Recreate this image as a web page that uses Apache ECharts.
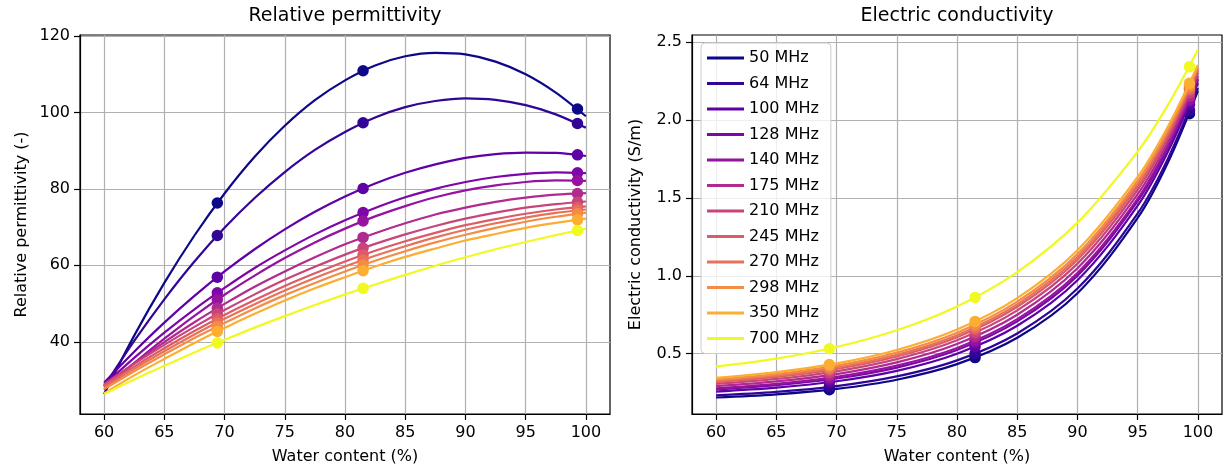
<!DOCTYPE html>
<html>
<head>
<meta charset="utf-8">
<script src="https://cdn.jsdelivr.net/npm/echarts@6/dist/echarts.min.js"></script>
<style>
  html, body { margin: 0; padding: 0; background: #fff; }
  #chart { width: 1226px; height: 472px; }
</style>
</head>
<body>
<div id="chart"></div>
<script>
// frequencies (legend order)
const freqs = ['50 MHz', '64 MHz', '100 MHz', '128 MHz', '140 MHz', '175 MHz',
  '210 MHz', '245 MHz', '270 MHz', '298 MHz', '350 MHz', '700 MHz'];

// water content of the measured samples and of the fitted curve samples
const waterPts = [69.4, 81.5, 99.3];
const permWater = [60, 62.5, 65, 67.5, 70, 72.5, 75, 77.5, 80, 82.5, 85, 87.5, 90, 92.5, 95, 97.5, 100];
const condWater = [60, 65, 70, 75, 80, 85, 90, 95, 97.5, 100];

// relative permittivity, measured points
const permPts = [
  [76.3, 110.9, 100.9],
  [67.8, 97.3, 97.1],
  [56.9, 80.1, 88.9],
  [52.8, 73.8, 84.2],
  [51.0, 71.6, 82.2],
  [48.8, 67.3, 78.8],
  [47.3, 64.5, 76.5],
  [46.0, 62.7, 75.2],
  [45.0, 61.4, 74.4],
  [44.0, 60.1, 73.5],
  [42.7, 58.6, 71.9],
  [39.7, 54.0, 69.1]
];

// relative permittivity, fitted curves (read at permWater)
const permFit = [
  [26.3, 41.6, 55.4, 67.8, 78.8, 88.4, 96.5, 103.2, 108.4, 112.3, 114.7, 115.6, 115.2, 113.3, 110.0, 105.2, 99.0],
  [28.3, 40.2, 51.1, 61.0, 69.8, 77.6, 84.4, 90.2, 94.9, 98.7, 101.4, 103.0, 103.7, 103.3, 101.9, 99.5, 96.0],
  [29.3, 37.4, 45.0, 52.0, 58.4, 64.2, 69.4, 74.0, 78.0, 81.4, 84.2, 86.4, 88.1, 89.1, 89.5, 89.4, 88.6],
  [28.7, 35.8, 42.4, 48.5, 54.1, 59.3, 63.9, 68.1, 71.8, 75.0, 77.8, 80.0, 81.8, 83.1, 83.9, 84.3, 84.1],
  [27.5, 34.4, 40.8, 46.8, 52.3, 57.3, 61.9, 66.0, 69.6, 72.8, 75.5, 77.8, 79.6, 80.9, 81.8, 82.2, 82.1],
  [28.5, 34.4, 39.9, 45.1, 49.9, 54.4, 58.4, 62.1, 65.5, 68.4, 71.0, 73.3, 75.1, 76.6, 77.7, 78.5, 78.9],
  [28.9, 34.2, 39.2, 43.9, 48.3, 52.4, 56.2, 59.6, 62.8, 65.6, 68.1, 70.3, 72.2, 73.8, 75.1, 76.0, 76.7],
  [28.5, 33.5, 38.3, 42.8, 47.0, 50.9, 54.6, 57.9, 61.0, 63.8, 66.3, 68.5, 70.5, 72.1, 73.5, 74.6, 75.4],
  [28.0, 32.9, 37.5, 41.9, 46.0, 49.8, 53.4, 56.7, 59.7, 62.5, 65.0, 67.3, 69.3, 71.0, 72.5, 73.7, 74.6],
  [27.6, 32.3, 36.7, 41.0, 44.9, 48.7, 52.2, 55.4, 58.4, 61.2, 63.7, 66.0, 68.0, 69.8, 71.4, 72.7, 73.8],
  [26.5, 31.2, 35.5, 39.7, 43.6, 47.3, 50.8, 54.0, 56.9, 59.7, 62.2, 64.4, 66.5, 68.2, 69.8, 71.1, 72.2],
  [26.3, 30.1, 33.7, 37.2, 40.5, 43.7, 46.7, 49.6, 52.4, 55.0, 57.5, 59.9, 62.1, 64.2, 66.1, 67.9, 69.6]
];

// electric conductivity (S/m), measured points
const condPts = [
  [0.269, 0.475, 2.040],
  [0.287, 0.501, 2.061],
  [0.317, 0.545, 2.099],
  [0.335, 0.570, 2.120],
  [0.345, 0.584, 2.132],
  [0.362, 0.610, 2.153],
  [0.380, 0.635, 2.175],
  [0.395, 0.656, 2.192],
  [0.404, 0.670, 2.204],
  [0.416, 0.686, 2.217],
  [0.430, 0.707, 2.235],
  [0.532, 0.861, 2.342]
];

// electric conductivity, fitted curves (read at condWater)
const condFit = [
  [0.219, 0.239, 0.274, 0.333, 0.433, 0.602, 0.888, 1.371, 1.725, 2.187],
  [0.233, 0.255, 0.292, 0.354, 0.457, 0.630, 0.918, 1.400, 1.750, 2.205],
  [0.257, 0.282, 0.323, 0.390, 0.500, 0.679, 0.971, 1.450, 1.794, 2.237],
  [0.271, 0.298, 0.341, 0.411, 0.524, 0.707, 1.001, 1.479, 1.820, 2.255],
  [0.278, 0.306, 0.351, 0.423, 0.537, 0.722, 1.018, 1.495, 1.834, 2.265],
  [0.292, 0.322, 0.369, 0.444, 0.562, 0.750, 1.048, 1.524, 1.859, 2.283],
  [0.306, 0.338, 0.387, 0.465, 0.586, 0.778, 1.078, 1.552, 1.884, 2.302],
  [0.317, 0.351, 0.402, 0.482, 0.606, 0.801, 1.103, 1.576, 1.905, 2.316],
  [0.325, 0.359, 0.412, 0.493, 0.619, 0.816, 1.120, 1.592, 1.919, 2.326],
  [0.334, 0.369, 0.423, 0.507, 0.635, 0.834, 1.139, 1.610, 1.935, 2.338],
  [0.345, 0.382, 0.438, 0.524, 0.655, 0.857, 1.164, 1.634, 1.956, 2.353],
  [0.417, 0.468, 0.543, 0.650, 0.803, 1.024, 1.341, 1.797, 2.095, 2.451]
];

const xTicks = [60, 65, 70, 75, 80, 85, 90, 95, 100];
const permTicks = [40, 60, 80, 100, 120];
const condTicks = [0.5, 1.0, 1.5, 2.0, 2.5];

// plasma colormap samples
const colors = ['#0d0887', '#310596', '#5e01a5', '#7d06a6', '#9613a0', '#b12a90',
  '#c9447a', '#db5b69', '#e87159', '#f48b47', '#fcae33', '#f0f921'];

const FONT = 'DejaVu Sans';

function xAxisOpt (gi) {
  return {
    type: 'value', gridIndex: gi, min: 58, max: 102,
    name: 'Water content (%)', nameLocation: 'middle', nameGap: 35,
    nameTextStyle: { fontFamily: FONT, fontSize: 16, color: '#000' },
    axisLine: { show: true, onZero: false, lineStyle: { color: '#000', width: 1.2 } },
    axisTick: { show: true, length: 6, customValues: xTicks, lineStyle: { color: '#000', width: 1.2 } },
    axisLabel: { customValues: xTicks, margin: 11, fontFamily: FONT, fontSize: 16, color: '#000' },
    splitLine: { show: true, lineStyle: { color: '#b0b0b0', width: 1.2 } }
  }
}

function yAxisOpt (gi, min, max, ticks, name, gap, fmt) {
  return {
    type: 'value', gridIndex: gi, min: min, max: max,
    name: name, nameLocation: 'middle', nameGap: gap, nameRotate: 90,
    nameTextStyle: { fontFamily: FONT, fontSize: 16, color: '#000' },
    axisLine: { show: true, onZero: false, lineStyle: { color: '#000', width: 1.2 } },
    axisTick: { show: true, length: 6, customValues: ticks, lineStyle: { color: '#000', width: 1.2 } },
    axisLabel: { customValues: ticks, margin: 10, fontFamily: FONT, fontSize: 16, color: '#000', formatter: fmt },
    splitLine: { show: true, lineStyle: { color: '#b0b0b0', width: 1.2 } }
  }
}

const series = [];
freqs.forEach((f, i) => {
  const c = colors[i];
  series.push({
    type: 'line', name: f, xAxisIndex: 0, yAxisIndex: 0,
    data: permWater.map((x, j) => [x, permFit[i][j]]),
    showSymbol: false, smooth: 0.3,
    lineStyle: { color: c, width: 2.2 }, itemStyle: { color: c }, z: 2 + i
  });
  series.push({
    type: 'scatter', name: f, xAxisIndex: 0, yAxisIndex: 0,
    data: waterPts.map((x, j) => [x, permPts[i][j]]),
    symbolSize: 11.5, itemStyle: { color: c, opacity: 1 }, z: 2 + i
  });
  series.push({
    type: 'line', name: f, xAxisIndex: 1, yAxisIndex: 1,
    data: condWater.map((x, j) => [x, condFit[i][j]]),
    showSymbol: false, smooth: 0.35,
    lineStyle: { color: c, width: 2.2 }, itemStyle: { color: c }, z: 2 + i
  });
  series.push({
    type: 'scatter', name: f, xAxisIndex: 1, yAxisIndex: 1,
    data: waterPts.map((x, j) => [x, condPts[i][j]]),
    symbolSize: 11.5, itemStyle: { color: c, opacity: 1 }, z: 2 + i
  });
});

const myChart = echarts.init(document.getElementById('chart'), null, { renderer: 'canvas' });
myChart.setOption({
  animation: false,
  backgroundColor: '#fff',
  title: [
    { text: 'Relative permittivity', left: 345, top: 7, textAlign: 'center', padding: 0,
      textStyle: { fontFamily: FONT, fontSize: 19, fontWeight: 'normal', color: '#000' } },
    { text: 'Electric conductivity', left: 957, top: 7, textAlign: 'center', padding: 0,
      textStyle: { fontFamily: FONT, fontSize: 19, fontWeight: 'normal', color: '#000' } }
  ],
  grid: [
    { left: 80, top: 35, width: 530, height: 379, show: true, borderColor: '#000', borderWidth: 1.2, backgroundColor: 'transparent' },
    { left: 692, top: 35, width: 530, height: 379, show: true, borderColor: '#000', borderWidth: 1.2, backgroundColor: 'transparent' }
  ],
  xAxis: [xAxisOpt(0), xAxisOpt(1)],
  yAxis: [
    yAxisOpt(0, 21.1, 120.26, permTicks, 'Relative permittivity (-)', 50, v => String(v)),
    yAxisOpt(1, 0.113, 2.545, condTicks, 'Electric conductivity (S/m)', 48, v => v.toFixed(1))
  ],
  legend: {
    data: freqs, orient: 'vertical', left: 701, top: 43,
    icon: 'rect', itemWidth: 37, itemHeight: 3, itemGap: 5.5, itemTextGap: 14,
    padding: [5, 12, 5, 6],
    backgroundColor: 'rgba(255,255,255,0.8)', borderColor: '#cccccc', borderWidth: 1, borderRadius: 4,
    textStyle: { fontFamily: FONT, fontSize: 16, lineHeight: 20, color: '#000' },
    selectedMode: false
  },
  series: series
});
</script>
</body>
</html>
